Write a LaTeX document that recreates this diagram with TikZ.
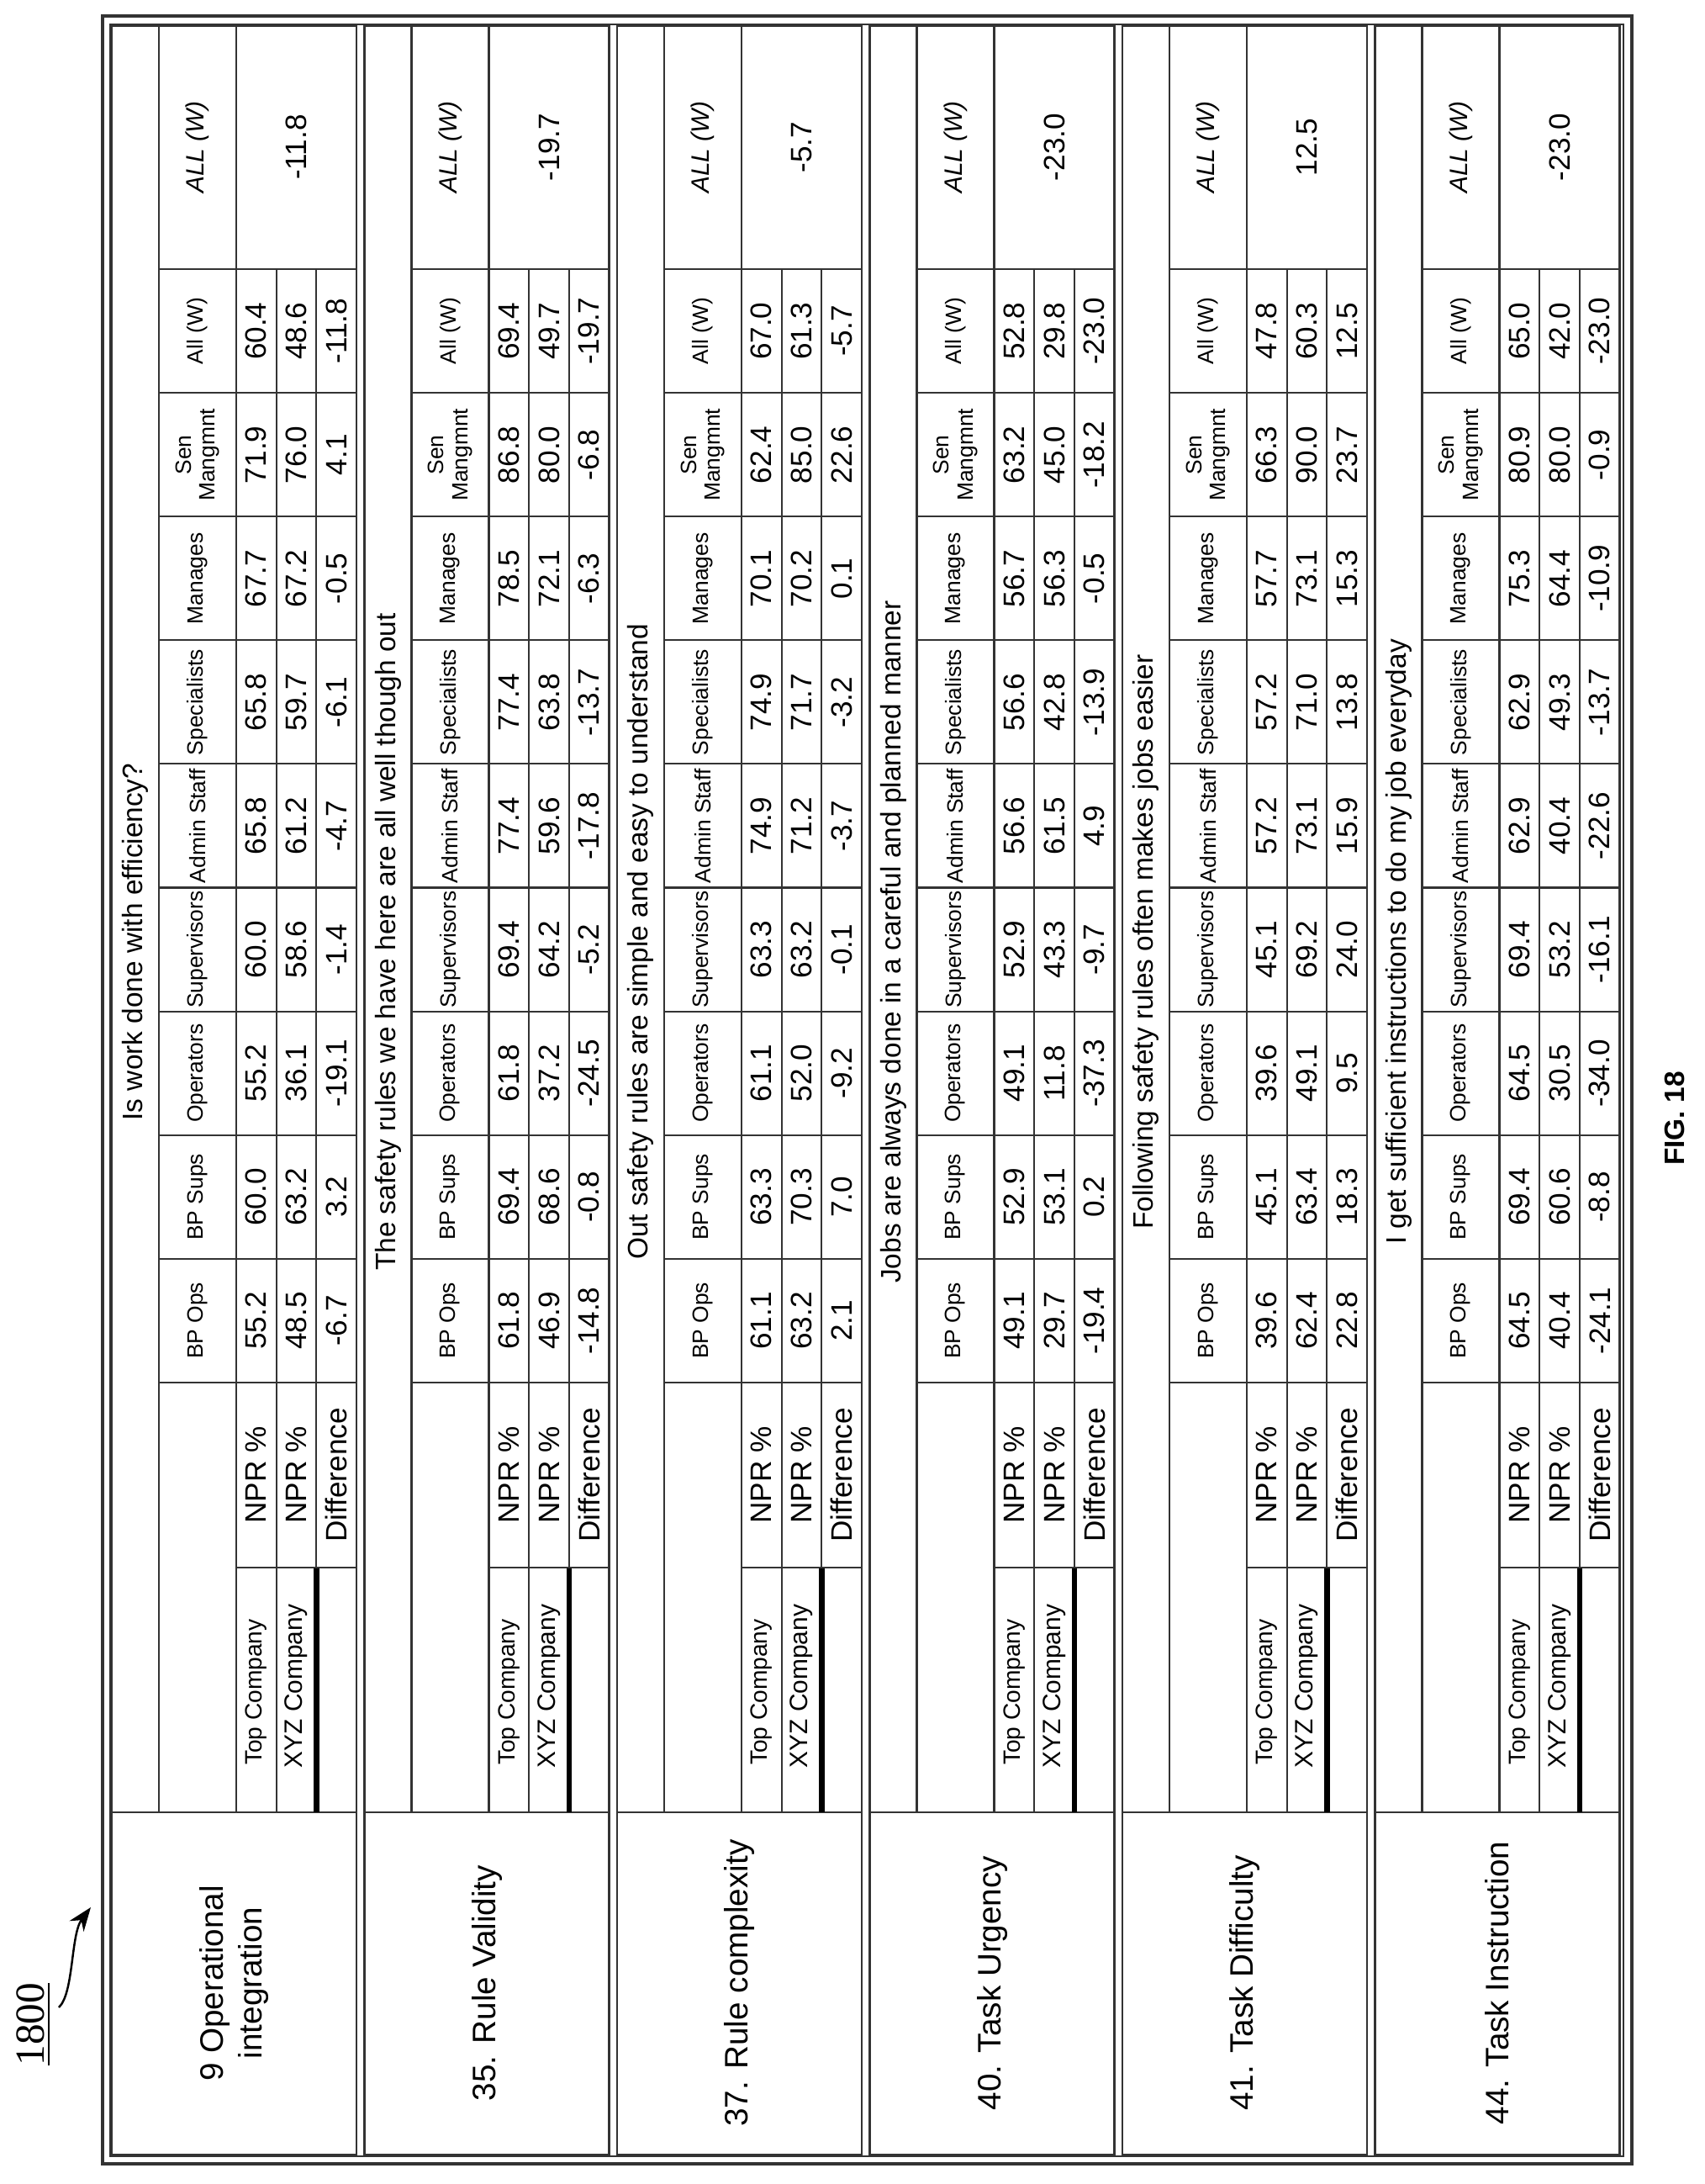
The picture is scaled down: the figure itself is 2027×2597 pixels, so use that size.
\documentclass[tikz,border=0pt]{standalone}
\usepackage{fontspec}
\setmainfont{Liberation Sans}
\newfontfamily\refserif{Liberation Serif}
\usetikzlibrary{arrows.meta}

\tikzset{
  gridline/.style={draw=black!80, line width=0.6pt},
  valcell/.style={rotate=90, inner sep=0pt, font=\fontsize{10}{11}\selectfont},
  headcell/.style={rotate=90, inner sep=0pt, align=center, font=\fontsize{7.5}{8}\selectfont},
  titlecell/.style={rotate=90, inner sep=0pt, align=center, font=\fontsize{9.5}{12}\selectfont},
}

% one question block: index, question, item, overall, three rows
\newcommand{\surveyblock}[7]{%
\pgfmathsetmacro{\xo}{133+300.5*#1}
\pgfmathsetmacro{\xe}{\xo+291}
\pgfmathsetmacro{\xt}{\xo+56}
\pgfmathsetmacro{\xh}{\xo+148}
\pgfmathsetmacro{\xa}{\xh+47.7}
\pgfmathsetmacro{\xb}{\xh+95.4}

% lines
\draw[gridline] (\xo,-31) rectangle (\xe,-2562);
\draw[gridline] (\xt,-31) -- (\xt,-2155);
\draw[gridline] (\xo,-2155) -- (\xe,-2155);
\draw[gridline] (\xh,-31) -- (\xh,-2155);
\draw[gridline] (\xa,-320) -- (\xa,-2155);
\draw[gridline] (\xb,-320) -- (\xb,-1864);
\draw[line width=1.8pt] (\xb,-1864) -- (\xb,-2155);
\draw[gridline] (\xt,-320) -- (\xe,-320);
\foreach \j in {1,...,9}
  \draw[gridline] (\xt,{-320-147.1*\j}) -- (\xe,{-320-147.1*\j});
\draw[gridline] (\xh,-1864) -- (\xe,-1864);

% texts
\node[titlecell] (q#1) at ({\xo+28},-1120) {#2};
\node[titlecell, font=\fontsize{11}{13}\selectfont] (item#1) at ({(\xo+\xe)/2},-2358) {#3};
\node[headcell, font=\itshape\fontsize{8.5}{9}\selectfont] (allh#1) at ({\xo+102},-175) {ALL (W)};
\node[valcell] (allv#1) at ({\xh+71.5},-175) {#4};
\foreach \h [count=\c] in {BP Ops,BP Sups,Operators,Supervisors,Admin Staff,Specialists,Manages,{Sen\\Mangmnt},All (W)}
  \node[headcell] (h#1n\c) at ({\xo+102},{-1570.5+147.1*(\c-1)}) {\h};
\foreach \v [count=\c] in {#5}
  \node[valcell] (ra#1n\c) at ({\xh+23.85},{-1570.5+147.1*(\c-1)}) {\v};
\foreach \v [count=\c] in {#6}
  \node[valcell] (rb#1n\c) at ({\xh+71.55},{-1570.5+147.1*(\c-1)}) {\v};
\foreach \v [count=\c] in {#7}
  \node[valcell] (rc#1n\c) at ({\xh+119.25},{-1570.5+147.1*(\c-1)}) {\v};
\node[valcell] (npra#1) at ({\xh+23.85},-1754) {NPR \%};
\node[valcell] (nprb#1) at ({\xh+71.55},-1754) {NPR \%};
\node[valcell] (diff#1) at ({\xh+119.25},-1754) {Difference};
\node[headcell, font=\fontsize{8}{9}\selectfont] (topco#1) at ({\xh+23.85},-2012) {Top Company};
\node[headcell, font=\fontsize{8.5}{9}\selectfont] (xyzco#1) at ({\xh+71.55},-2005) {XYZ Company};
}

\begin{document}
\begin{tikzpicture}[x=0.01cm, y=0.01cm]
\useasboundingbox (0,0) rectangle (2027,-2597);

% frame
\draw[gridline, line width=0.9pt] (122,-19) rectangle (1941,-2573);
\draw[gridline] (131,-29) rectangle (1931,-2564);

\surveyblock{0}{Is work done with efficiency?}{9 Operational\\integration}{-11.8}
  {55.2,60.0,55.2,60.0,65.8,65.8,67.7,71.9,60.4}
  {48.5,63.2,36.1,58.6,61.2,59.7,67.2,76.0,48.6}
  {-6.7,3.2,-19.1,-1.4,-4.7,-6.1,-0.5,4.1,-11.8}
\surveyblock{1}{The safety rules we have here are all well though out}{35. Rule Validity}{-19.7}
  {61.8,69.4,61.8,69.4,77.4,77.4,78.5,86.8,69.4}
  {46.9,68.6,37.2,64.2,59.6,63.8,72.1,80.0,49.7}
  {-14.8,-0.8,-24.5,-5.2,-17.8,-13.7,-6.3,-6.8,-19.7}
\surveyblock{2}{Out safety rules are simple and easy to understand}{37. Rule complexity}{-5.7}
  {61.1,63.3,61.1,63.3,74.9,74.9,70.1,62.4,67.0}
  {63.2,70.3,52.0,63.2,71.2,71.7,70.2,85.0,61.3}
  {2.1,7.0,-9.2,-0.1,-3.7,-3.2,0.1,22.6,-5.7}
\surveyblock{3}{Jobs are always done in a careful and planned manner}{40. Task Urgency}{-23.0}
  {49.1,52.9,49.1,52.9,56.6,56.6,56.7,63.2,52.8}
  {29.7,53.1,11.8,43.3,61.5,42.8,56.3,45.0,29.8}
  {-19.4,0.2,-37.3,-9.7,4.9,-13.9,-0.5,-18.2,-23.0}
\surveyblock{4}{Following safety rules often makes jobs easier}{41. Task Difficulty}{12.5}
  {39.6,45.1,39.6,45.1,57.2,57.2,57.7,66.3,47.8}
  {62.4,63.4,49.1,69.2,73.1,71.0,73.1,90.0,60.3}
  {22.8,18.3,9.5,24.0,15.9,13.8,15.3,23.7,12.5}
\surveyblock{5}{I get sufficient instructions to do my job everyday}{44. Task Instruction}{-23.0}
  {64.5,69.4,64.5,69.4,62.9,62.9,75.3,80.9,65.0}
  {40.4,60.6,30.5,53.2,40.4,49.3,64.4,80.0,42.0}
  {-24.1,-8.8,-34.0,-16.1,-22.6,-13.7,-10.9,-0.9,-23.0}

% figure labels
\node[rotate=90, font=\bfseries\fontsize{9.5}{11}\selectfont] (fig) at (1992,-1330) {FIG. 18};
\node[rotate=90, font=\refserif\fontsize{14}{16}\selectfont, inner sep=1pt] (ref) at (40,-2407) {\underline{1800}};
\coordinate (tip) at (108,-2268);
\draw[-{Stealth[length=8pt,width=6pt]}, line width=0.7pt] (70,-2387) .. controls (88,-2370) and (84,-2300) .. (tip);
\end{tikzpicture}
\end{document}
